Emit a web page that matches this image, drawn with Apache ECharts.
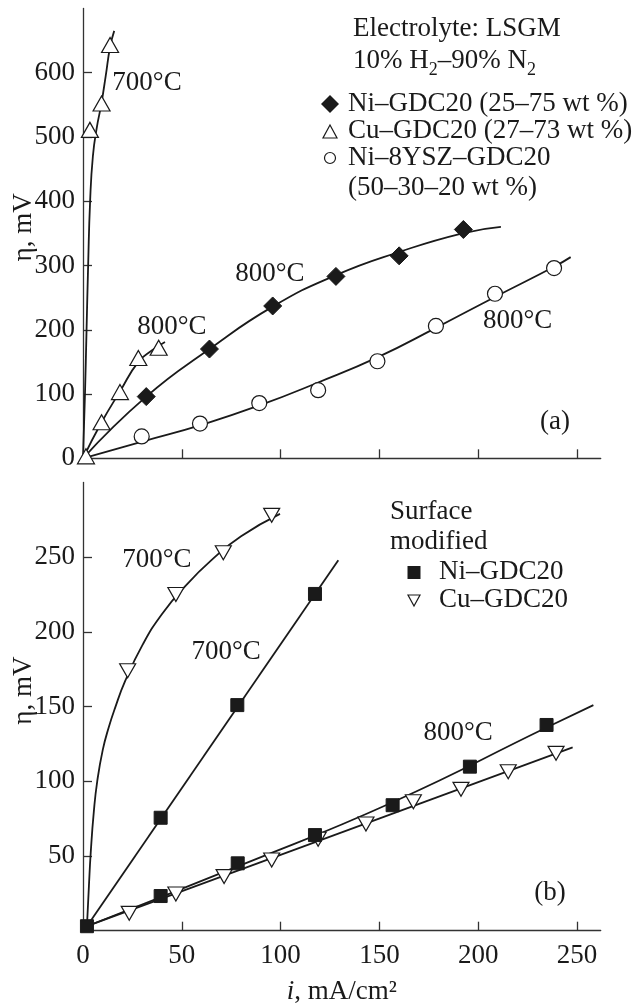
<!DOCTYPE html>
<html>
<head>
<meta charset="utf-8">
<script src="https://cdn.jsdelivr.net/npm/echarts@6/dist/echarts.min.js"></script>
<style>html,body{margin:0;padding:0;background:#fff}#c{width:643px;height:1007px}</style>
</head>
<body>
<div id="c"></div>
<script>
// ---- Panel (a) data: [i (mA/cm2), eta (mV)] ----
const cuGdc700Pts = [[3.5,511],[9.4,552],[13.7,643]];
const cuGdc700Fit = [[0,0],[1,100],[1.8,200],[2.6,300],[3.6,400],[5,470],[7,515],[9.2,550],[11.5,595],[13.7,640],[15.8,665]];
const cuGdc800Pts = [[1.5,3],[9.4,56],[18.7,103],[28,156],[38.3,172]];
const cuGdc800Fit = [[0,0],[9.4,56],[18.7,104],[28,150],[35,168],[41.5,181]];
const niGdc800Pts = [[32,96],[64,170],[96,237],[128,283],[160,315],[192.5,356]];
const niGdc800Fit = [[0,0],[32,96],[64,170],[96,236],[128,285],[160,321],[192,350],[211.5,360]];
const niYsz800Pts = [[29.7,34],[59.2,54],[89.2,86],[119,106],[149,151],[178.6,206],[208.5,256],[238.4,296]];
const niYsz800Fit = [[0,0],[30,26],[60,52],[90,83],[119,118],[149,157],[178.6,203],[208.5,251],[238.4,298],[246.8,313]];

// ---- Panel (b) data ----
const smCu700Pts = [[22.6,174],[47,225],[71,253],[95.5,278]];
const smCu700Fit = [[2,3],[3,30],[3.9,52],[5.5,80],[7.2,100],[10,121],[13,136],[16.2,149],[21.3,167],[30,191],[40,212],[52,231],[65,248],[80,264],[99.7,279]];
const smNi700Pts = [[2,3],[39.3,75.6],[78.1,151],[117.4,225.4]];
const smNi700Fit = [[2,3],[129.2,248]];
const smNi800Pts = [[39.3,23.2],[78.3,45.1],[117.4,64],[156.7,84],[195.8,109.8],[234.6,137.7]];
const smNi800Fit = [[2,3],[78.3,43],[156.7,86],[234.6,136],[258.3,151]];
const smCu800Pts = [[23.4,11.6],[47,24.6],[71.4,36.2],[95.5,47.3],[119,61.2],[143.2,71.4],[167.2,86.3],[191.3,94.6],[215.2,106.4],[239.4,118.7]];
const smCu800Fit = [[2,3],[247.8,122.7]];

// ---- ticks ----
const xTicks = [0,50,100,150,200,250];
const yTicksA = [0,100,200,300,400,500,600];
const yTicksB = [50,100,150,200,250];

// ---- annotations [x, y, text] in data space ----
const notesA = [[32.4,584,'700°C'],[45,204.5,'800°C'],[94.6,287,'800°C'],[220,214,'800°C'],[238.9,57,'(a)']];
const notesB = [[37.4,248,'700°C'],[72.4,186.5,'700°C'],[189.8,132.3,'800°C'],[236.3,25.3,'(b)']];

const FF = '"Liberation Serif", "Times New Roman", serif';
const FS = 27;
const INK = '#1a1a1a';
const AX = '#333';

function xAxisCfg(grid, showLabels) {
  return {
    type:'value', gridIndex:grid, min:0, max:262,
    axisLine:{show:true, onZero:false, lineStyle:{color:AX, width:1.3}},
    axisTick:{show:true, inside:true, length:9, lineStyle:{color:AX, width:1.3}, customValues:xTicks.filter(v=>v>0)},
    axisLabel:{show:showLabels, customValues:xTicks, fontFamily:FF, fontSize:FS, color:INK, margin:12},
    splitLine:{show:false}
  };
}
function yAxisCfg(grid, max, ticks, labels, namePad) {
  return {
    type:'value', gridIndex:grid, min:0, max:max,
    name:'η, mV', nameLocation:'middle', nameRotate:90, nameGap:46, nameMoveOverlap:false,
    nameTextStyle:{fontFamily:FF, fontSize:FS, color:INK, padding:[0,0,0,namePad]},
    axisLine:{show:true, onZero:false, lineStyle:{color:AX, width:1.3}},
    axisTick:{show:true, inside:true, length:9, lineStyle:{color:AX, width:1.3}, customValues:ticks},
    axisLabel:{customValues:labels, fontFamily:FF, fontSize:FS, color:INK, margin:8},
    splitLine:{show:false}
  };
}
const openStyle = {color:'#fff', borderColor:INK, borderWidth:1.2, opacity:1};
const fillStyle = {color:INK, borderColor:INK, borderWidth:1, opacity:1};
const INV_TRI = 'path://M0,0L20,0L10,18Z';

function pts(name, data, grid, symbol, size, style) {
  return {type:'scatter', name, xAxisIndex:grid, yAxisIndex:grid, data, symbol, symbolSize:size, itemStyle:style, z:5, silent:true};
}
function fit(data, grid) {
  return {type:'line', xAxisIndex:grid, yAxisIndex:grid, data, showSymbol:false, symbol:'none', smooth:0.5,
    lineStyle:{color:INK, width:1.8}, z:3, silent:true};
}
function notes(arr, grid) {
  return {type:'scatter', xAxisIndex:grid, yAxisIndex:grid, symbolSize:0, silent:true, z:6,
    itemStyle:{opacity:1},
    data: arr.map(n=>({value:[n[0],n[1]], label:{show:true, formatter:n[2], position:'inside', fontFamily:FF, fontSize:FS, color:INK, opacity:1}}))};
}

const gfont = FS + 'px ' + FF;
function gtext(x, y, text) {
  return {type:'text', x, y, style:{text, font:gfont, fill:INK, align:'left', verticalAlign:'middle'}, silent:true};
}
const subRich = {
  n:{fontFamily:FF, fontSize:FS, color:INK, lineHeight:36, verticalAlign:'middle'},
  s:{fontFamily:FF, fontSize:18, color:INK, lineHeight:36, verticalAlign:'bottom'}
};

const graphics = [
  gtext(353, 29, 'Electrolyte: LSGM'),
  {type:'text', x:353, y:61, silent:true, style:{text:'{n|10% H}{s|2}{n|–90% N}{s|2}', rich:subRich, font:gfont, fill:INK, align:'left', verticalAlign:'middle'}},
  {type:'polygon', silent:true, shape:{points:[[330,95],[339,104],[330,113],[321,104]]}, style:{fill:INK}},
  gtext(348, 104, 'Ni–GDC20 (25–75 wt %)'),
  {type:'polygon', silent:true, shape:{points:[[330,125],[337,138],[323,138]]}, style:{fill:'#fff', stroke:INK, lineWidth:1.2}},
  gtext(348, 131, 'Cu–GDC20 (27–73 wt %)'),
  {type:'circle', silent:true, shape:{cx:330, cy:158, r:5.5}, style:{fill:'#fff', stroke:INK, lineWidth:1.2}},
  gtext(348, 158, 'Ni–8YSZ–GDC20'),
  gtext(348, 188, '(50–30–20 wt %)'),
  gtext(390, 512, 'Surface'),
  gtext(390, 542, 'modified'),
  {type:'rect', silent:true, shape:{x:407.5, y:566, width:13, height:13}, style:{fill:INK}},
  gtext(439, 572, 'Ni–GDC20'),
  {type:'polygon', silent:true, shape:{points:[[408,595],[420,595],[414,606]]}, style:{fill:'#fff', stroke:INK, lineWidth:1.2}},
  gtext(439, 600, 'Cu–GDC20')
];

const chart = echarts.init(document.getElementById('c'), null, {renderer:'canvas'});
chart.setOption({
  animation:false,
  backgroundColor:'#fff',
  grid:[
    {left:83, top:8.4, width:517.7, height:449.9, outerBoundsMode:'none', containLabel:false},
    {left:83, top:482.5, width:517.7, height:448.2, outerBoundsMode:'none', containLabel:false}
  ],
  xAxis:[
    xAxisCfg(0, false),
    Object.assign(xAxisCfg(1, true), {
      name:'{it|i}, mA/cm²', nameLocation:'middle', nameGap:48, nameMoveOverlap:false,
      nameTextStyle:{fontFamily:FF, fontSize:FS, color:INK, rich:{it:{fontFamily:FF, fontSize:FS, fontStyle:'italic', color:INK}}}
    })
  ],
  yAxis:[
    yAxisCfg(0, 700, yTicksA.filter(v=>v>0), yTicksA, 12),
    yAxisCfg(1, 300, yTicksB, yTicksB, 32)
  ],
  graphic: graphics,
  series:[
    fit(cuGdc700Fit,0), fit(cuGdc800Fit,0), fit(niGdc800Fit,0), fit(niYsz800Fit,0),
    pts('Cu–GDC20 (27–73 wt %)', cuGdc700Pts, 0, 'triangle', [17,15], openStyle),
    pts('Cu–GDC20 (27–73 wt %)', cuGdc800Pts, 0, 'triangle', [17,15], openStyle),
    pts('Ni–GDC20 (25–75 wt %)', niGdc800Pts, 0, 'diamond', [18,18], fillStyle),
    pts('Ni–8YSZ–GDC20 (50–30–20 wt %)', niYsz800Pts, 0, 'circle', 15, openStyle),
    notes(notesA, 0),
    fit(smCu700Fit,1), fit(smNi700Fit,1), fit(smNi800Fit,1), fit(smCu800Fit,1),
    pts('Cu–GDC20 surface modified', smCu700Pts, 1, INV_TRI, [16,14], openStyle),
    pts('Cu–GDC20 surface modified', smCu800Pts, 1, INV_TRI, [16,14], openStyle),
    pts('Ni–GDC20 surface modified', smNi700Pts, 1, 'rect', 13, fillStyle),
    pts('Ni–GDC20 surface modified', smNi800Pts, 1, 'rect', 13, fillStyle),
    notes(notesB, 1)
  ]
});
</script>
</body>
</html>
